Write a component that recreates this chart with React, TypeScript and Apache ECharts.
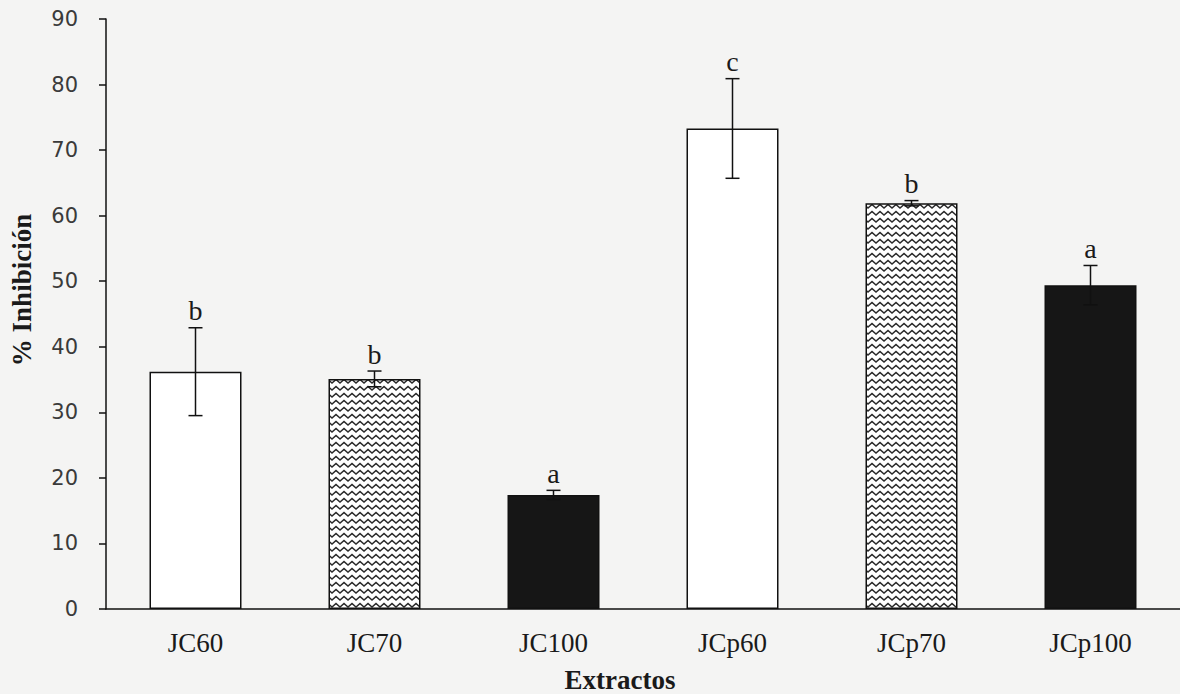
import React, { useEffect, useRef } from "react";
import * as echarts from "echarts";

const categories = ["JC60", "JC70", "JC100", "JCp60", "JCp70", "JCp100"];
const values = [36.2, 35.1, 17.4, 73.3, 61.9, 49.4];
const errors = [6.7, 1.2, 0.7, 7.6, 0.4, 3.0];
const letters = ["b", "b", "a", "c", "b", "a"];
const yTicks = { min: 0, max: 90, interval: 10 };

function makeZigzag(): HTMLCanvasElement {
  const c = document.createElement("canvas");
  c.width = 8;
  c.height = 7;
  const ctx = c.getContext("2d")!;
  ctx.fillStyle = "#ffffff";
  ctx.fillRect(0, 0, 8, 7);
  ctx.strokeStyle = "#2a2a2a";
  ctx.lineWidth = 1.4;
  ctx.beginPath();
  ctx.moveTo(-2, 5);
  ctx.lineTo(0, 1.5);
  ctx.lineTo(4, 5);
  ctx.lineTo(8, 1.5);
  ctx.lineTo(10, 5);
  ctx.stroke();
  return c;
}

export default function App() {
  const ref = useRef<HTMLDivElement>(null);
  useEffect(() => {
    if (!ref.current) return;
    const chart = echarts.init(ref.current, undefined, { renderer: "svg" });
    const zig = makeZigzag();
    const fills: any[] = ["#ffffff", { image: zig, repeat: "repeat" }, "#161616"];
    const serif = "'Liberation Serif', 'Times New Roman', serif";
    chart.setOption({
      animation: false,
      backgroundColor: "#f4f4f3",
      grid: { left: 106, right: 0, top: 19, bottom: 85 },
      xAxis: {
        type: "category",
        data: categories,
        axisLine: { lineStyle: { color: "#111", width: 1.5 } },
        axisTick: { show: false },
        axisLabel: { color: "#1a1a1a", fontFamily: serif, fontSize: 27, margin: 20 },
      },
      yAxis: {
        type: "value",
        min: yTicks.min,
        max: yTicks.max,
        interval: yTicks.interval,
        splitLine: { show: false },
        axisLine: { show: true, lineStyle: { color: "#111", width: 1.5 } },
        axisTick: { show: true, inside: false, length: 7, lineStyle: { color: "#111", width: 1.5 } },
        axisLabel: { color: "#3a3a3a", fontFamily: "'DejaVu Sans', Verdana, sans-serif", fontSize: 21, margin: 28 },
      },
      graphic: [
        {
          type: "text",
          x: 22,
          y: 290,
          rotation: Math.PI / 2,
          style: {
            text: "% Inhibición",
            font: `bold 27px ${serif}`,
            fill: "#1a1a1a",
            align: "center",
            verticalAlign: "middle",
          },
        },
        {
          type: "text",
          x: 620,
          y: 680,
          style: {
            text: "Extractos",
            font: `bold 27px ${serif}`,
            fill: "#1a1a1a",
            align: "center",
            verticalAlign: "middle",
          },
        },
      ],
      series: [
        {
          type: "bar",
          barWidth: 92,
          data: values.map((v, i) => ({
            value: v,
            itemStyle: { color: fills[i % 3], borderColor: "#111", borderWidth: 1.5 },
          })),
        },
        {
          type: "custom",
          data: values.map((v, i) => [i, v, errors[i], letters[i]]),
          renderItem: (params: any, api: any) => {
            const i = api.value(0);
            const v = api.value(1);
            const e = api.value(2);
            const letter = letters[params.dataIndex];
            const top = api.coord([i, v + e]);
            const bot = api.coord([i, v - e]);
            const x = top[0];
            const cap = 7;
            const ls = { stroke: "#111", lineWidth: 1.5 };
            return {
              type: "group",
              children: [
                { type: "line", shape: { x1: x, y1: top[1], x2: x, y2: bot[1] }, style: ls },
                { type: "line", shape: { x1: x - cap, y1: top[1], x2: x + cap, y2: top[1] }, style: ls },
                { type: "line", shape: { x1: x - cap, y1: bot[1], x2: x + cap, y2: bot[1] }, style: ls },
                {
                  type: "text",
                  x: x,
                  y: top[1] - 3,
                  style: {
                    text: letter,
                    font: `28px ${serif}`,
                    fill: "#1a1a1a",
                    align: "center",
                    verticalAlign: "bottom",
                  },
                },
              ],
            };
          },
          z: 5,
        },
      ],
    });
    return () => chart.dispose();
  }, []);
  return (
    <div
      ref={ref}
      style={{ position: "absolute", left: 0, top: 0, width: 1180, height: 694 }}
    />
  );
}
